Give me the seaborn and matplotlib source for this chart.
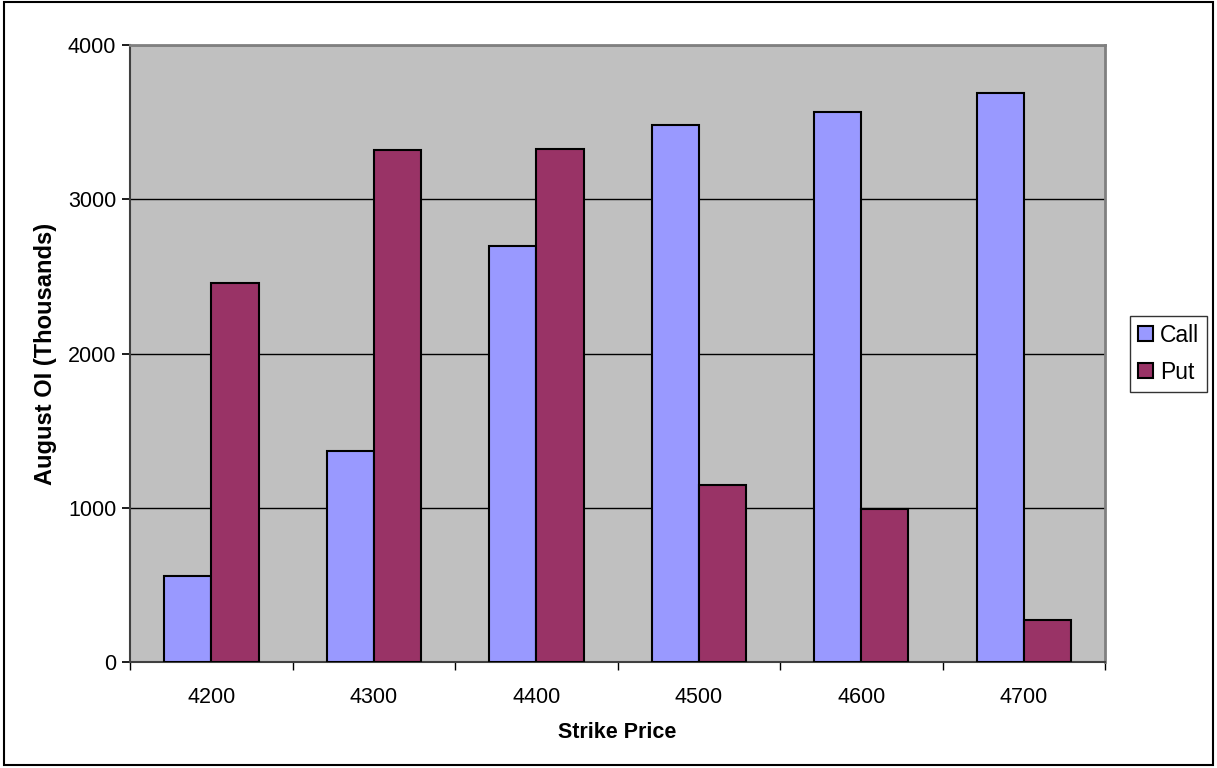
import matplotlib
matplotlib.use("Agg")
import matplotlib.pyplot as plt
import seaborn as sns
import pandas as pd
from matplotlib.patches import Rectangle

strikes = ["4200", "4300", "4400", "4500", "4600", "4700"]
call_oi = [557, 1368, 2697, 3481, 3566, 3689]
put_oi = [2457, 3319, 3326, 1147, 992, 272]

df = pd.DataFrame({
    "Strike": strikes * 2,
    "OI": call_oi + put_oi,
    "Type": ["Call"] * len(strikes) + ["Put"] * len(strikes),
})

sns.set_theme(style="white", rc={"text.color": "black", "axes.labelcolor": "black",
                                 "xtick.color": "black", "ytick.color": "black"})
plt.rcParams["font.family"] = ["Liberation Sans", "DejaVu Sans"]

fig = plt.figure(figsize=(12.17, 7.68), dpi=100)
ax = fig.add_axes([0.107, 0.138, 0.801, 0.803])
ax.set_facecolor("#C0C0C0")

sns.barplot(data=df, x="Strike", y="OI", hue="Type", order=strikes,
            palette={"Call": "#9999FF", "Put": "#993366"},
            width=0.58, gap=0, edgecolor="black", linewidth=1.5,
            saturation=1, ax=ax, zorder=3)

ax.set_ylim(0, 4000)
ax.set_xlim(-0.5, len(strikes) - 0.5)
ax.set_yticks([0, 1000, 2000, 3000, 4000])
ax.yaxis.grid(True, color="black", linewidth=1)
ax.set_axisbelow(True)
for sp in ["top", "right"]:
    ax.spines[sp].set_color("#808080")
    ax.spines[sp].set_linewidth(2)
for sp in ["left", "bottom"]:
    ax.spines[sp].set_color("#404040")
    ax.spines[sp].set_linewidth(1.5)

ax.set_xticks([i - 0.5 for i in range(len(strikes) + 1)], minor=True)
ax.tick_params(axis="x", which="major", length=0, labelsize=15.5, pad=18, labelcolor="black")
ax.tick_params(axis="x", which="minor", length=6, color="black", direction="out", bottom=True)
ax.tick_params(axis="y", which="major", length=6, color="black", direction="out", left=True,
               labelsize=15.5, pad=4, labelcolor="black")

ax.set_xlabel("Strike Price", fontsize=15.5, fontweight="bold", labelpad=10, color="black")
ax.set_ylabel("August OI (Thousands)", fontsize=17, fontweight="bold", labelpad=8, color="black")

leg = ax.legend(loc="center left", bbox_to_anchor=(1.014, 0.5), frameon=True,
                fontsize=16.5, handlelength=0.65, handleheight=0.65, handletextpad=0.3,
                borderpad=0.35, labelspacing=0.6, fancybox=False, edgecolor="black")
leg.get_frame().set_linewidth(1)
for t in leg.get_texts():
    t.set_color("black")

fig.patches.append(Rectangle((0.003, 0.004), 0.994, 0.993, transform=fig.transFigure,
                             fill=False, edgecolor="black", linewidth=1.5))

fig.savefig("out.png", dpi=100, facecolor="white")
